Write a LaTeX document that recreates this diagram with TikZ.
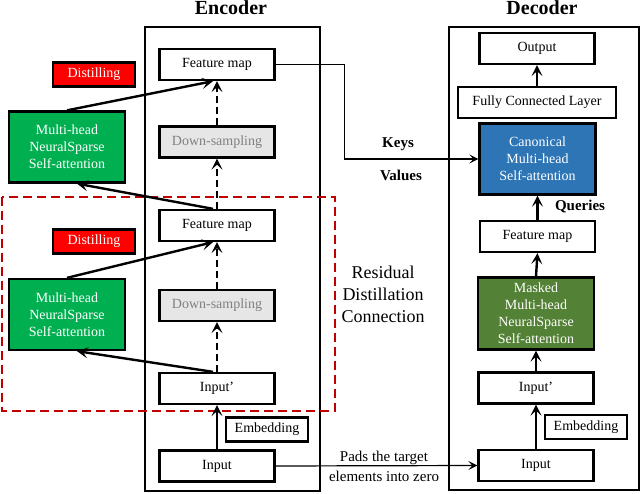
\documentclass[tikz,border=0pt]{standalone}
\usepackage{fontspec}
\setmainfont{Liberation Serif}
\usetikzlibrary{arrows.meta}
\definecolor{encgreen}{HTML}{00B050}
\definecolor{decgreen}{HTML}{538135}
\definecolor{attnblue}{HTML}{2E75B6}
\definecolor{samplegrey}{HTML}{E7E6E6}
\definecolor{residred}{HTML}{C00000}

\begin{document}
\begin{tikzpicture}[x=1pt,y=-1pt,
	box/.style={draw, line width=2.3pt, minimum width=115pt, minimum height=31pt, inner sep=0pt, align=center, font=\fontsize{14}{17}\selectfont},
	sample/.style={box, fill=samplegrey, text=gray},
	tag/.style={box, minimum width=82pt, minimum height=24pt},
	distil/.style={tag, fill=red, text=white},
	attn/.style={box, minimum width=116pt, minimum height=71pt, text=white},
	frame/.style={draw, line width=2pt, inner sep=0pt},
	title/.style={inner sep=0pt, font=\fontsize{20}{20}\selectfont\bfseries},
	flowlabel/.style={inner sep=0pt, font=\fontsize{15}{17}\selectfont\bfseries},
	flow/.style={line width=2.4pt, -{Stealth[length=11pt,width=11pt,inset=5pt]}},
	dflow/.style={flow, dash pattern=on 7pt off 4pt},
	thin/.style={line width=1.2pt, -{Stealth[length=9pt,width=9pt,inset=4pt]}}]

	\useasboundingbox (0,0) rectangle (640,494);

	\node[frame, minimum width=175pt, minimum height=463pt] (enc) at (232,259) {};
	\node[frame, minimum width=190pt, minimum height=462pt] (dec) at (543.5,258.5) {};
	\node[title] (enctitle) at (231,8) {Encoder};
	\node[title] (dectitle) at (542,8) {Decoder};

	\draw[residred, line width=2pt, dash pattern=on 9pt off 5pt] (2,197) rectangle (335,411);

	\node[box] (fmA) at (217,64.5) {Feature map};
	\node[sample] (dsA) at (217,142) {Down-sampling};
	\node[box] (fmB) at (217,225.5) {Feature map};
	\node[sample] (dsB) at (217,305.5) {Down-sampling};
	\node[box] (inpB) at (217,388.5) {Input'};
	\node[tag] (embA) at (267,429.5) {Embedding};
	\node[box] (inA) at (217,466) {Input};

	\node[distil] (dlA) at (94,74.5) {Distilling};
	\node[distil] (dlB) at (94,241.5) {Distilling};
	\node[attn, fill=encgreen] (gA) at (67,147) {Multi-head\\NeuralSparse\\Self-attention};
	\node[attn, fill=encgreen] (gB) at (67,314.5) {Multi-head\\NeuralSparse\\Self-attention};

	\node[box] (out) at (537,48.5) {Output};
	\node[box, minimum width=158pt] (fcl) at (537,102.5) {Fully Connected Layer};
	\node[attn, fill=attnblue] (can) at (537.5,159) {Canonical\\Multi-head\\Self-attention};
	\node[box] (fmD) at (537.5,236.5) {Feature map};
	\node[attn, fill=decgreen, minimum height=72pt] (mask) at (536,313.5) {Masked\\Multi-head\\NeuralSparse\\Self-attention};
	\node[box] (inpD) at (536,388) {Input'};
	\node[tag] (embD) at (586,427) {Embedding};
	\node[box] (inD) at (536,465.5) {Input};

	\node[flowlabel] (keys) at (398,144) {Keys};
	\node[flowlabel] (values) at (401,175) {Values};
	\node[flowlabel] (queries) at (580,207) {Queries};
	\node[inner sep=0pt, align=center, font=\fontsize{18}{22}\selectfont] (resid) at (383,294) {Residual\\Distillation\\Connection};
	\node[inner sep=0pt, align=center, font=\fontsize{15}{20}\selectfont] (pads) at (384,466) {Pads the target\\elements into zero};

	\draw[flow] (gA.north) -- ([xshift=-4pt]fmA.south);
	\draw[dflow] (dsA.north) -- (fmA.south);
	\draw[flow] ([xshift=-4pt]fmB.north) -- ([xshift=10pt]gA.south);
	\draw[dflow] (fmB.north) -- (dsA.south);
	\draw[flow] (gB.north) -- ([xshift=-4pt]fmB.south);
	\draw[dflow] (dsB.north) -- (fmB.south);
	\draw[flow] ([xshift=-4pt]inpB.north) -- ([xshift=10pt]gB.south);
	\draw[dflow] (inpB.north) -- (dsB.south);
	\draw[flow] (inA.north) -- (inpB.south);

	\draw[thin] (fmA.east) -- ++(69,0) |- (can.west);
	\draw[thin] (inA.east) -- (inD.west);

	\draw[flow] (fcl.north) -- (out.south);
	\draw[flow] (fmD.north) -- (can.south);
	\draw[flow] (mask.north) -- (fmD.south);
	\draw[flow] (inpD.north) -- (mask.south);
	\draw[flow] (inD.north) -- (inpD.south);

\end{tikzpicture}
\end{document}
